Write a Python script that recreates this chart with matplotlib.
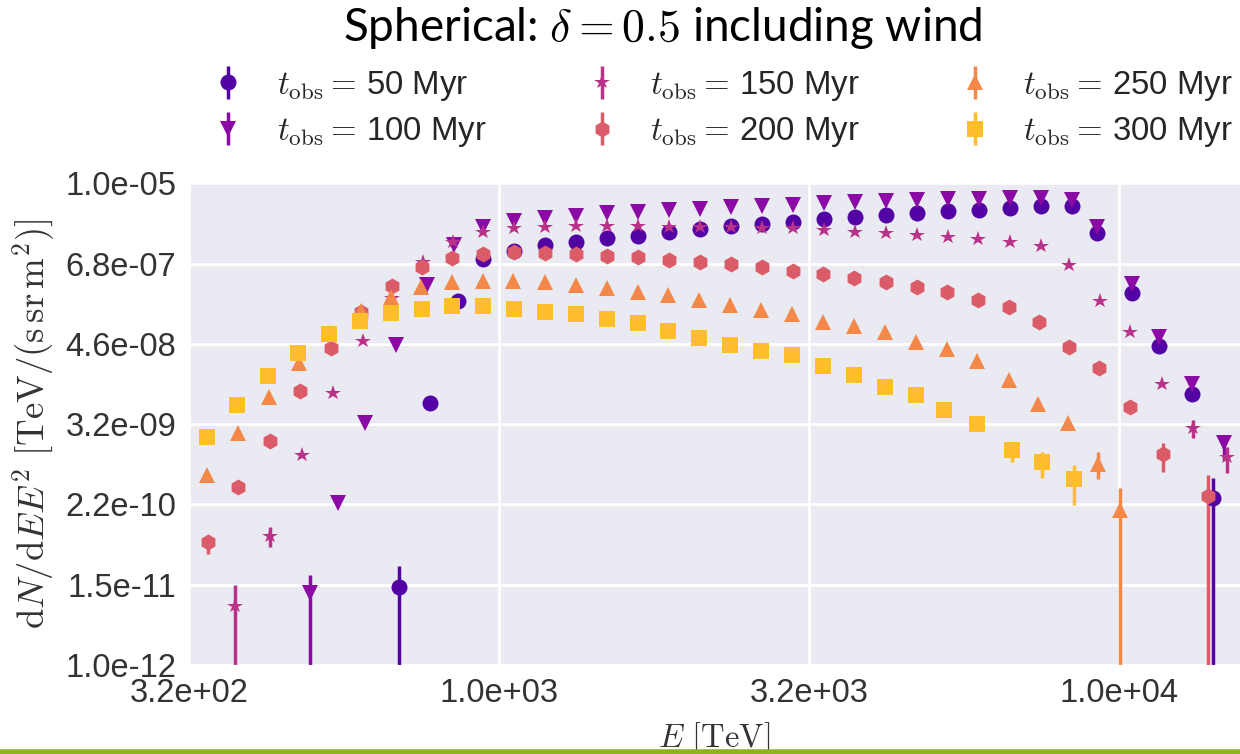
import numpy as np
import matplotlib
matplotlib.use("Agg")
import matplotlib.pyplot as plt
from matplotlib.lines import Line2D
import seaborn as sns

E_50 = [690, 773, 859, 942, 1056, 1185, 1330, 1494, 1672, 1878, 2107, 2362, 2650, 2973,
        3339, 3747, 4204, 4712, 5287, 5945, 6664, 7476, 8379, 9215, 10471, 11588, 13115, 14145]
F_50 = [1.38e-11, 6.37e-9, 1.97e-7, 7.87e-7, 1.04e-6, 1.27e-6, 1.42e-6, 1.59e-6, 1.73e-6,
        1.94e-6, 2.15e-6, 2.40e-6, 2.56e-6, 2.77e-6, 3.03e-6, 3.21e-6, 3.46e-6, 3.74e-6,
        3.96e-6, 4.13e-6, 4.42e-6, 4.68e-6, 4.68e-6, 1.88e-6, 2.52e-7, 4.37e-8, 8.69e-9, 2.65e-10]

E_100 = [496, 549, 607, 681, 764, 846, 942, 1056, 1185, 1330, 1494, 1672, 1878, 2107, 2365,
         2656, 2979, 3343, 3747, 4204, 4712, 5287, 5945, 6664, 7476, 8379, 9215, 10471, 11588,
         13115, 14771]
F_100 = [1.13e-11, 2.24e-10, 3.33e-9, 4.47e-8, 3.33e-7, 1.27e-6, 2.34e-6, 2.83e-6, 3.10e-6,
         3.38e-6, 3.67e-6, 3.87e-6, 4.09e-6, 4.19e-6, 4.48e-6, 4.68e-6, 4.84e-6, 5.12e-6,
         5.30e-6, 5.53e-6, 5.72e-6, 5.92e-6, 5.92e-6, 6.06e-6, 6.06e-6, 5.72e-6, 2.34e-6,
         3.41e-7, 5.79e-8, 1.21e-8, 1.67e-9]

E_150 = [375, 426, 480, 539, 602, 671, 754, 843, 942, 1056, 1185, 1330, 1494, 1672, 1878,
         2107, 2365, 2656, 2979, 3339, 3747, 4204, 4712, 5287, 5923, 6664, 7468, 8306, 9308,
         10406, 11706, 13134, 14900]
F_150 = [7.23e-12, 7.52e-11, 1.13e-9, 8.89e-9, 5.17e-8, 2.13e-7, 7.12e-7, 1.42e-6, 1.98e-6,
         2.26e-6, 2.34e-6, 2.42e-6, 2.42e-6, 2.42e-6, 2.34e-6, 2.34e-6, 2.34e-6, 2.26e-6,
         2.22e-6, 2.10e-6, 1.98e-6, 1.88e-6, 1.77e-6, 1.68e-6, 1.54e-6, 1.39e-6, 1.23e-6,
         6.50e-7, 1.95e-7, 6.98e-8, 1.20e-8, 2.76e-9, 1.07e-9]

E_200 = [339, 379, 427, 477, 535, 598, 671, 751, 840, 942, 1056, 1185, 1330, 1494, 1672,
         1878, 2107, 2365, 2650, 2973, 3331, 3738, 4204, 4712, 5280, 5923, 6647, 7422, 8306,
         9274, 10406, 11776, 13916]
F_200 = [6.08e-11, 3.83e-10, 1.82e-9, 9.60e-9, 4.09e-8, 1.36e-7, 3.22e-7, 6.14e-7, 8.14e-7,
         9.39e-7, 9.94e-7, 9.62e-7, 9.39e-7, 8.87e-7, 8.41e-7, 7.69e-7, 7.12e-7, 6.66e-7,
         6.02e-7, 5.37e-7, 4.76e-7, 4.25e-7, 3.65e-7, 3.15e-7, 2.66e-7, 2.02e-7, 1.61e-7,
         9.75e-8, 4.23e-8, 2.09e-8, 5.68e-9, 1.16e-9, 2.86e-10]

E_250 = [338, 379, 425, 476, 532, 598, 669, 748, 839, 941, 1054, 1185, 1330, 1491, 1672,
         1873, 2101, 2356, 2643, 2969, 3331, 3738, 4189, 4700, 5268, 5902, 6639, 7403, 8273,
         9229, 10025]
F_250 = [5.78e-10, 2.33e-9, 7.94e-9, 2.43e-8, 6.68e-8, 1.40e-7, 2.25e-7, 3.15e-7, 3.65e-7,
         3.81e-7, 3.81e-7, 3.72e-7, 3.33e-7, 3.04e-7, 2.66e-7, 2.38e-7, 2.02e-7, 1.71e-7,
         1.44e-7, 1.25e-7, 9.75e-8, 8.53e-8, 6.84e-8, 5.00e-8, 3.88e-8, 2.65e-8, 1.39e-8,
         6.15e-9, 3.33e-9, 8.27e-10, 1.79e-10]

E_300 = [338, 378, 424, 474, 532, 596, 668, 750, 839, 941, 1055, 1185, 1328, 1491, 1672,
         1873, 2099, 2356, 2643, 2969, 3331, 3734, 4189, 4700, 5216, 5888, 6707, 7512, 8460]
F_300 = [2.04e-9, 6.01e-9, 1.59e-8, 3.39e-8, 6.40e-8, 9.99e-8, 1.32e-7, 1.49e-7, 1.63e-7,
         1.65e-7, 1.51e-7, 1.36e-7, 1.25e-7, 1.07e-7, 9.25e-8, 7.22e-8, 5.60e-8, 4.47e-8,
         3.70e-8, 3.20e-8, 2.22e-8, 1.64e-8, 1.09e-8, 8.40e-9, 5.00e-9, 3.15e-9, 1.33e-9,
         9.02e-10, 5.06e-10]

# visible error bars: point index -> (lower, upper)
err_50 = {0: (1e-14, 2.78e-11), 27: (1e-14, 5.18e-10)}
err_100 = {0: (1e-14, 2.04e-11), 30: (9.55e-10, 2.08e-9)}
err_150 = {0: (1e-14, 1.46e-11), 1: (5.25e-11, 1.0e-10), 31: (2.0e-9, 3.64e-9), 32: (6.12e-10, 1.49e-9)}
err_200 = {0: (4.11e-11, 7.77e-11), 31: (6.46e-10, 1.67e-9), 32: (1e-14, 5.78e-10)}
err_250 = {29: (5.06e-10, 1.26e-9), 30: (1e-14, 3.71e-10)}
err_300 = {26: (9.02e-10, 1.73e-9), 27: (5.28e-10, 1.26e-9), 28: (2.12e-10, 8.07e-10)}

times = [50, 100, 150, 200, 250, 300]
markers = ['o', 'v', '*', 'h', '^', 's']

series = [(E_50, F_50, err_50), (E_100, F_100, err_100), (E_150, F_150, err_150),
          (E_200, F_200, err_200), (E_250, F_250, err_250), (E_300, F_300, err_300)]

sns.set_style("darkgrid")
plt.rcParams['font.family'] = ['Liberation Sans', 'DejaVu Sans']
plt.rcParams['mathtext.fontset'] = 'cm'

colors = sns.color_palette("plasma", 6)

fig = plt.figure(figsize=(12.4, 7.54), dpi=100)
ax = fig.add_axes([189.3 / 1240, 1 - 665 / 754, (1240 - 189.3) / 1240, (665 - 183.3) / 754])

handles = []
for (E, F, err), t, m, c in zip(series, times, markers, colors):
    F = np.array(F)
    lo = np.zeros(len(F))
    hi = np.zeros(len(F))
    for i, (a, b) in err.items():
        lo[i] = F[i] - a
        hi[i] = b - F[i]
    h = ax.errorbar(E, F, yerr=[lo, hi], fmt=m, color=c, ms=11.5, mew=0,
                    elinewidth=2.5, capsize=0,
                    label=r'$t_{\mathrm{obs}} =\,$' + '%d Myr' % t)
    handles.append(h)

ax.set_xscale('log')
ax.set_yscale('log')
ax.set_xlim(10 ** 2.5, 10 ** (3 + (1240 - 499.3) / 620))
ax.set_ylim(1e-12, 1e-5)
ax.set_xticks([10 ** 2.5, 1e3, 10 ** 3.5, 1e4])
ax.set_yticks(np.logspace(-12, -5, 7))
ax.xaxis.set_major_formatter(plt.FuncFormatter(lambda v, p: '%.1e' % v))
ax.yaxis.set_major_formatter(plt.FuncFormatter(lambda v, p: '%.1e' % v))
ax.minorticks_off()
ax.tick_params(labelsize=23.5, colors='#333333', pad=6)
ax.grid(True, color='white', lw=2)

ax.set_ylabel(r'$\mathrm{d}N/\mathrm{d}E E^2\ [\mathrm{TeV}/(\mathrm{s\,sr\,m}^2)]$',
              fontsize=26.5, color='#333333', labelpad=6)
ax.set_xlabel(r'$E\ [\mathrm{TeV}]$', fontsize=23.5, color='#333333', labelpad=8)

fig.legend(handles=handles, loc='upper left', bbox_to_anchor=(212 / 1240, 1 - 69 / 754),
           ncol=3, frameon=False, fontsize=23.7, handlelength=1.0, handletextpad=0.97,
           columnspacing=3.0, labelspacing=0.37, borderpad=0, borderaxespad=0)

fig.text(0.534, 1 - 28 / 754, r'Spherical: $\delta = 0.5$ including wind',
         ha='center', va='center', fontsize=33, family='Lato', color='black')

fig.add_artist(Line2D([0, 1], [2.5 / 754, 2.5 / 754], color='#8db31f', lw=4))

fig.savefig('out.png', dpi=100)
